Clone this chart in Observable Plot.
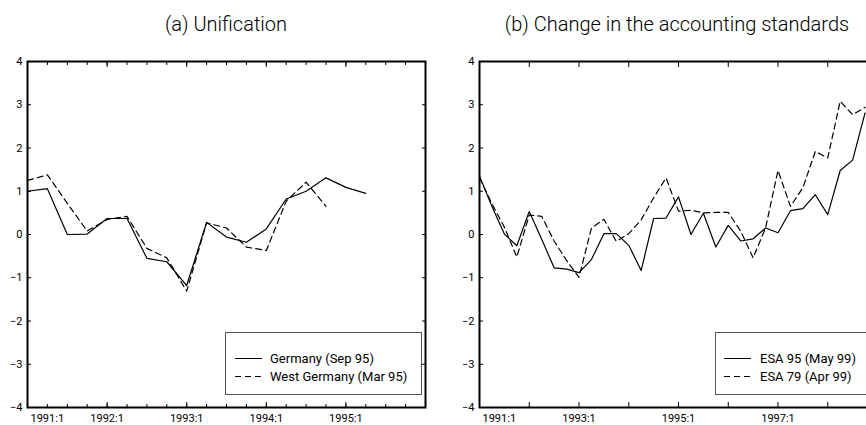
<!DOCTYPE html>
<html>
<head>
<meta charset="utf-8">
<script src="https://cdn.jsdelivr.net/npm/d3@7"></script>
<script src="https://cdn.jsdelivr.net/npm/@observablehq/plot@0.6"></script>
<style>
  html, body { margin: 0; padding: 0; background: #fff; overflow: hidden; }
  #root { position: relative; width: 866px; height: 425px; overflow: hidden; font-family: Roboto, "Liberation Sans", sans-serif; }
  .title { position: absolute; top: 12px; font-size: 20px; font-weight: 300; color: #000; white-space: nowrap; transform: translateX(-50%); }
  .panel { position: absolute; top: 40px; }
  .panel svg { max-width: none !important; }
  .legend { position: absolute; border: 1px solid #555; background: #fff; font-size: 13px; font-weight: 400; }
  .legend .row { position: absolute; left: 0; white-space: nowrap; display: flex; align-items: center; }
  .legend svg { display: block; }
</style>
</head>
<body>
<div id="root"></div>
<script>
// ---------- data ----------
const titleA = "(a) Unification";
const titleB = "(b) Change in the accounting standards";
// quarterly series, first value = 1991:1
const startYear = 1991;
const germanySep95 = [1.00, 1.06, 0.00, 0.01, 0.37, 0.37, -0.55, -0.63, -1.18, 0.28, -0.06, -0.18, 0.13, 0.82, 1.00, 1.31, 1.09, 0.95];
const westGermanyMar95 = [1.25, 1.38, 0.72, 0.08, 0.35, 0.42, -0.32, -0.54, -1.31, 0.27, 0.15, -0.29, -0.37, 0.77, 1.21, 0.65];
const esa95May99 = [1.35, 0.65, 0.01, -0.26, 0.53, -0.11, -0.77, -0.80, -0.88, -0.58, 0.02, 0.02, -0.25, -0.83, 0.37, 0.38, 0.87, 0.00, 0.49, -0.29, 0.21, -0.15, -0.10, 0.15, 0.04, 0.55, 0.60, 0.92, 0.46, 1.48, 1.72, 2.81];
const esa79Apr99 = [1.31, 0.71, 0.17, -0.52, 0.45, 0.42, -0.15, -0.60, -0.99, 0.15, 0.35, -0.16, 0.02, 0.34, 0.85, 1.31, 0.54, 0.56, 0.50, 0.51, 0.51, 0.08, -0.54, 0.15, 1.48, 0.65, 1.08, 1.92, 1.77, 3.08, 2.77, 2.94];
const legendA = ["Germany (Sep 95)", "West Germany (Mar 95)"];
const legendB = ["ESA 95 (May 99)", "ESA 79 (Apr 99)"];
const yTicks = [-4, -3, -2, -1, 0, 1, 2, 3, 4];
const yearsA = [1991, 1992, 1993, 1994, 1995, 1996];
const yearLabelsA = [1991, 1992, 1993, 1994, 1995];
const yearsB = [1991, 1992, 1993, 1994, 1995, 1996, 1997, 1998, 1999];
const yearLabelsB = [1991, 1993, 1995, 1997];

const toRows = (arr, series) => arr.map((v, i) => ({t: startYear + i / 4, v, series}));
const quarters = (y0, y1) => d3.range((y1 - y0) * 4 + 1).map(i => y0 + i / 4);
const fmt = y => `${y}:1`;

const root = document.getElementById("root");
const FONT = "Roboto, 'Liberation Sans', sans-serif";

function panel({left, marginLeft, width, domain, years, labels, minor, solid, dashed}) {
  const rowsS = toRows(solid, "s");
  const rowsD = toRows(dashed, "d");
  const marks = [
    ...(minor ? [
      Plot.axisX(minor, {anchor: "bottom", tickSize: -3, text: null, label: null, strokeWidth: 1}),
      Plot.axisX(minor, {anchor: "top", tickSize: -3, text: null, label: null, strokeWidth: 1})
    ] : []),
    Plot.axisX(years, {anchor: "bottom", tickSize: -5, text: null, label: null, strokeWidth: 1}),
    Plot.axisX(years, {anchor: "top", tickSize: -5, text: null, label: null, strokeWidth: 1}),
    Plot.axisX(labels.slice(0, 1), {anchor: "bottom", tickSize: 0, tickPadding: 7, tickFormat: fmt, textAnchor: "start", dx: 3, fontSize: 11, label: null}),
    Plot.axisX(labels.slice(1), {anchor: "bottom", tickSize: 0, tickPadding: 7, tickFormat: fmt, fontSize: 11, label: null}),
    Plot.axisY(yTicks, {anchor: "left", tickSize: -4, text: null, label: null}),
    Plot.axisY(yTicks, {anchor: "right", tickSize: -4, text: null, label: null}),
    Plot.axisY(yTicks, {anchor: "left", tickSize: 0, tickPadding: 5, fontSize: 11, label: null}),
    Plot.line(rowsS, {x: "t", y: "v", stroke: "#000", strokeWidth: 1.2}),
    Plot.line(rowsD, {x: "t", y: "v", stroke: "#000", strokeWidth: 1.2, strokeDasharray: "6,4"}),
    Plot.frame({stroke: "#000", strokeWidth: 2})
  ];
  const svg = Plot.plot({
    width, height: 385,
    marginLeft, marginRight: 8, marginTop: 21, marginBottom: 18,
    style: {fontFamily: FONT, fontSize: "11px", color: "#000", background: "transparent", overflow: "visible", maxWidth: "none"},
    x: {domain, axis: null},
    y: {domain: [-4, 4], axis: null},
    marks
  });
  const wrap = document.createElement("div");
  wrap.className = "panel";
  wrap.style.left = left + "px";
  wrap.style.width = width + "px";
  wrap.appendChild(svg);
  root.appendChild(wrap);
}

panel({left: 0, marginLeft: 27, width: 433, domain: [1991, 1996], years: yearsA, labels: yearLabelsA,
       minor: quarters(1991, 1996), solid: germanySep95, dashed: westGermanyMar95});
panel({left: 433, marginLeft: 46, width: 452, domain: [1991, 1999], years: yearsB, labels: yearLabelsB,
       minor: null, solid: esa95May99, dashed: esa79Apr99});

function title(text, cx) {
  const d = document.createElement("div");
  d.className = "title";
  d.style.left = cx + "px";
  d.textContent = text;
  root.appendChild(d);
}
title(titleA, 226);
title(titleB, 677);

function legend(labels, left, width, lineX0, textX) {
  const box = document.createElement("div");
  box.className = "legend";
  box.style.left = left + "px";
  box.style.top = "332px";
  box.style.width = width + "px";
  box.style.height = "61px";
  const dashes = [null, "6,4"];
  const rowY = [25, 43];
  labels.forEach((lab, i) => {
    const row = document.createElement("div");
    row.className = "row";
    row.style.top = (rowY[i] - 9) + "px";
    row.style.height = "18px";
    row.style.left = (lineX0 - left) + "px";
    const s = d3.create("svg").attr("width", textX - lineX0).attr("height", 18);
    s.append("line").attr("x1", 0).attr("x2", 27).attr("y1", 9.5).attr("y2", 9.5)
      .attr("stroke", "#000").attr("stroke-width", 1).attr("stroke-dasharray", dashes[i]);
    row.appendChild(s.node());
    const t = document.createElement("span");
    t.textContent = lab;
    row.appendChild(t);
    box.appendChild(row);
  });
  root.appendChild(box);
}
legend(legendA, 225, 195, 234, 269);
legend(legendB, 715, 158, 723, 759);
</script>
</body>
</html>
